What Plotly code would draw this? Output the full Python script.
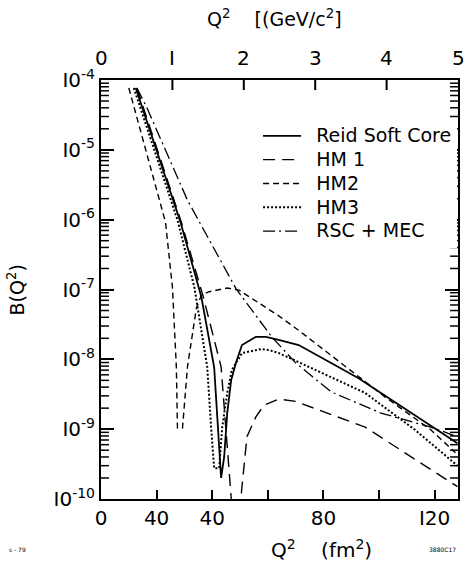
import math
import plotly.graph_objects as go

# ---------------- data ----------------
# Reid Soft Core
rsc_q2 = [12.5, 28.6, 36.1, 40.7, 43.2, 44.3, 45.4, 46.8, 48.6, 50.7, 55.7, 59.3, 63.9, 71.1, 92.5, 118.6, 128.2]
rsc_b = [7.7e-5, 9.2e-7, 7.8e-8, 7.7e-9, 2.0e-10, 4.0e-10, 1.7e-9, 5.0e-9, 9.1e-9, 1.6e-8, 2.1e-8, 2.1e-8, 1.9e-8, 1.6e-8, 5.4e-9, 1.1e-9, 6.3e-10]

# HM1
hm1_q2 = [12.9, 28.9, 36.8, 43.2, 47.1, 50.0, 50.7, 52.5, 55.7, 58.6, 63.9, 70.0, 95.0, 128.2]
hm1_b = [7.7e-5, 9.2e-7, 7.8e-8, 7.8e-9, 7.4e-11, 7.4e-11, 1.5e-10, 7.8e-10, 1.5e-9, 2.2e-9, 2.7e-9, 2.5e-9, 1.07e-9, 1.5e-10]

# HM2 (two branches, broken at the zero)
hm2_q2 = [10.0, 23.2, 25.7, 27.1, 27.5, None, 29.3, 31.1, 34.3, 36.1, 38.9, 45.4, 49.6, 63.9, 71.1, 92.5, 102.1, 118.6, 127.5]
hm2_b = [7.7e-5, 9.2e-7, 1.07e-7, 7.8e-9, 1.02e-9, None, 1.02e-9, 7.8e-9, 5.4e-8, 8.3e-8, 9.3e-8, 1.05e-7, 9.8e-8, 4.2e-8, 2.6e-8, 5.6e-9, 2.9e-9, 9.8e-10, 4.6e-10]

# HM3
hm3_q2 = [11.8, 27.5, 33.6, 38.2, 39.6, 40.7, 42.5, 43.6, 45.4, 47.1, 50.7, 55.7, 57.5, 60.7, 63.9, 71.1, 95.0, 112.9, 128.2]
hm3_b = [7.7e-5, 9.9e-7, 1.07e-7, 7.8e-9, 1.07e-9, 2.75e-10, 2.75e-10, 1.07e-9, 3.3e-9, 7.1e-9, 1.23e-8, 1.35e-8, 1.4e-8, 1.35e-8, 1.23e-8, 9.1e-9, 3.3e-9, 9.8e-10, 3.0e-10]

# RSC + MEC
mec_q2 = [12.9, 16.4, 31.1, 35.4, 48.6, 61.4, 70.0, 82.9, 100.7, 118.6, 128.2]
mec_b = [7.7e-5, 4.1e-5, 1.9e-6, 9.3e-7, 1.02e-7, 2.1e-8, 8.9e-9, 3.4e-9, 1.7e-9, 1.07e-9, 7.8e-10]

# axis ticks
x_tickvals = [0, 20, 40, 60, 80, 100, 120]
x_ticktext = ["0", "40", "40", "", "80", "", "I20"]
top_gev = [0, 1, 2, 3, 4, 5]                 # (GeV/c)^2
top_ticktext = ["0", "I", "2", "3", "4", "5"]
y_exponents = [-10, -9, -8, -7, -6, -5, -4]
y_minor_mult = [2, 3, 4, 5, 6, 7, 8, 9]

FM2_PER_GEV2 = 25.68
FONT = "DejaVu Sans"
X_MAX = 5 * FM2_PER_GEV2
PLOT_W, PLOT_H = 359, 419
Y_LOG_MIN, Y_LOG_MAX = -10, -4

fig = go.Figure()

series = [
    ("Reid Soft Core", rsc_q2, rsc_b, "solid", 1.8),
    ("HM 1", hm1_q2, hm1_b, "12px,7px", 1.4),
    ("HM2", hm2_q2, hm2_b, "6px,4px", 1.4),
    ("HM3", hm3_q2, hm3_b, "2px,2px", 2.0),
    ("RSC + MEC", mec_q2, mec_b, "12px,4px,2px,4px", 1.3),
]
for name, xs, ys, dash, w in series:
    fig.add_trace(go.Scatter(
        x=xs, y=ys, mode="lines", connectgaps=False,
        name='\u00a0\u00a0<span style="font-size:19px">%s</span>' % name,
        line=dict(color="black", width=w, dash=dash),
    ))

fig.update_layout(
    width=468, height=563,
    margin=dict(l=101, r=8, t=80, b=64),
    plot_bgcolor="white",
    showlegend=True,
    legend=dict(x=0.44, y=0.907, xanchor="left", yanchor="top",
                font=dict(size=16, family=FONT, color="black"),
                itemwidth=38, tracegroupgap=0),
    xaxis=dict(range=[0, X_MAX], showgrid=False, zeroline=False,
               showline=True, linecolor="black", linewidth=2, mirror=True,
               ticks="inside", ticklen=9, tickwidth=2, tickcolor="black",
               tickvals=x_tickvals, ticktext=x_ticktext,
               tickfont=dict(size=20, family=FONT, color="black")),
    yaxis=dict(type="log", range=[Y_LOG_MIN, Y_LOG_MAX], showgrid=False, zeroline=False,
               showline=True, linecolor="black", linewidth=2, mirror="ticks",
               ticks="inside", ticklen=13, tickwidth=2, tickcolor="black",
               tickvals=[10.0 ** e for e in y_exponents],
               ticktext=["I0<sup>%d</sup>" % e for e in y_exponents],
               tickfont=dict(size=20, family=FONT, color="black")),
)

# minor log ticks (2..9 per decade) on left and right frame edges
for e in y_exponents[:-1]:
    for m in y_minor_mult:
        yp = (math.log10(m * 10.0 ** e) - Y_LOG_MIN) / (Y_LOG_MAX - Y_LOG_MIN)
        for x0, x1 in ((0, 8 / PLOT_W), (1, 1 - 8 / PLOT_W)):
            fig.add_shape(type="line", xref="paper", yref="paper",
                          x0=x0, x1=x1, y0=yp, y1=yp,
                          line=dict(color="black", width=1.5))

# top (GeV/c^2) scale: labels and inward ticks placed on the fm^2 data axis
for g, t in zip(top_gev, top_ticktext):
    xv = g * FM2_PER_GEV2
    fig.add_annotation(text=t, xref="x", yref="paper", x=xv, y=1 + 22 / PLOT_H,
                       xanchor="center", yanchor="middle", showarrow=False,
                       font=dict(size=20, family=FONT, color="black"))
    if 0 < g < 5:
        fig.add_shape(type="line", xref="x", yref="paper", x0=xv, x1=xv,
                      y0=1, y1=1 - 10 / PLOT_H, line=dict(color="black", width=2))

annotations = [
    dict(text="Q<sup>2</sup>    [(GeV/c<sup>2</sup>]", x=275, y=18, size=19),
    dict(text="Q<sup>2</sup>    (fm<sup>2</sup>)", x=323, y=549, size=20),
    dict(text="s - 79", x=17, y=549, size=6),
    dict(text="3880C17", x=444, y=549, size=6),
]
for a in annotations:
    fig.add_annotation(text=a["text"], xref="paper", yref="paper",
                       x=(a["x"] - 101) / PLOT_W, y=(499 - a["y"]) / PLOT_H,
                       xanchor="center", yanchor="middle", showarrow=False,
                       font=dict(size=a["size"], family=FONT, color="black"))
fig.add_annotation(text="B(Q<sup>2</sup>)", xref="paper", yref="paper",
                   x=(16 - 101) / PLOT_W, y=(499 - 290) / PLOT_H, textangle=-90,
                   xanchor="center", yanchor="middle", showarrow=False,
                   font=dict(size=19, family=FONT, color="black"))

fig.write_html("out.html")
